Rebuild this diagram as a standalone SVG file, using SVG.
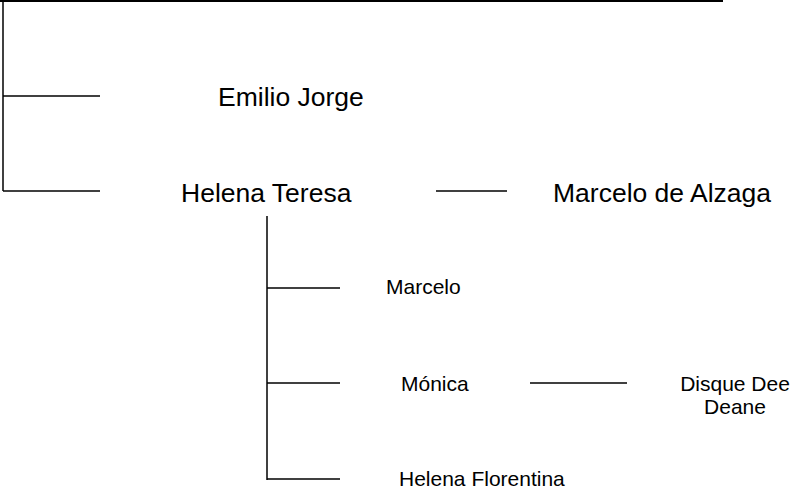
<svg xmlns="http://www.w3.org/2000/svg" width="790" height="496" viewBox="0 0 790 496">
<style>
.ln{stroke:#000;stroke-width:1.5;fill:none}
.big{font-family:"Liberation Sans",Arial,sans-serif;font-size:26.5px;fill:#000}
.sm{font-family:"Liberation Sans",Arial,sans-serif;font-size:21px;fill:#000}
.mid{text-anchor:middle}
</style>
<rect width="790" height="496" fill="#fff"/>
<g id="connectors">
<line class="ln" x1="0" y1="1" x2="723" y2="1" style="stroke-width:2"/>
<line class="ln" x1="3" y1="0" x2="3" y2="191"/>
<line class="ln" x1="3" y1="96" x2="100" y2="96"/>
<line class="ln" x1="3" y1="191" x2="100" y2="191"/>
<line class="ln" x1="436" y1="191" x2="507" y2="191"/>
<line class="ln" x1="267" y1="216" x2="267" y2="480"/>
<line class="ln" x1="267" y1="288" x2="340" y2="288"/>
<line class="ln" x1="267" y1="383" x2="340" y2="383"/>
<line class="ln" x1="267" y1="479" x2="340" y2="479"/>
<line class="ln" x1="530" y1="383" x2="627" y2="383"/>
</g>
<g id="emilio-jorge"><text class="big" x="218" y="106">Emilio Jorge</text></g>
<g id="helena-teresa"><text class="big" x="181" y="202">Helena Teresa</text></g>
<g id="marcelo-de-alzaga"><text class="big" x="553" y="202">Marcelo de Alzaga</text></g>
<g id="marcelo"><text class="sm" x="386" y="294">Marcelo</text></g>
<g id="monica"><text class="sm" x="401" y="391">Mónica</text></g>
<g id="disque-dee-deane"><text class="sm mid" x="735" y="391">Disque Dee</text><text class="sm mid" x="735" y="414">Deane</text></g>
<g id="helena-florentina"><text class="sm" x="399" y="486">Helena Florentina</text></g>
</svg>
